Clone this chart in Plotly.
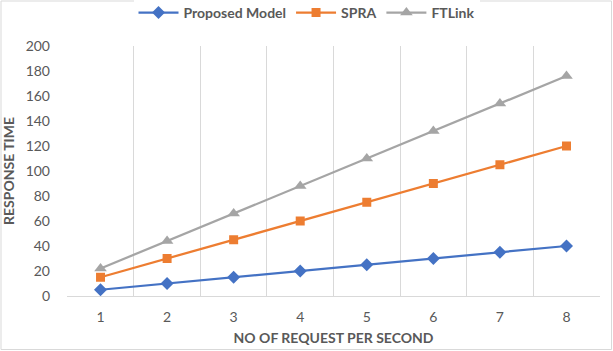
import plotly.graph_objects as go

categories = ["1", "2", "3", "4", "5", "6", "7", "8"]
proposed = [5, 10, 15, 20, 25, 30, 35, 40]
spra = [15, 30, 45, 60, 75, 90, 105, 120]
ftlink = [22, 44, 66, 88, 110, 132, 154, 176]

fig = go.Figure()
fig.add_trace(go.Scatter(x=categories, y=proposed, name="<b>Proposed Model</b>", mode="lines+markers",
                         line=dict(color="#4472C4", width=2.25),
                         marker=dict(symbol="diamond", size=10, color="#4472C4")))
fig.add_trace(go.Scatter(x=categories, y=spra, name="<b>SPRA</b>", mode="lines+markers",
                         line=dict(color="#ED7D31", width=2.25),
                         marker=dict(symbol="square", size=9, color="#ED7D31")))
fig.add_trace(go.Scatter(x=categories, y=ftlink, name="<b>FTLink</b>", mode="lines+markers",
                         line=dict(color="#A5A5A5", width=2.25),
                         marker=dict(symbol="triangle-up", size=11, color="#A5A5A5")))

L, R, T, B = 67, 13, 46, 55
W, H = 613, 351
pw, ph = W - L - R, H - T - B

fig.update_layout(
    width=W, height=H,
    margin=dict(l=L, r=R, t=T, b=B, autoexpand=False),
    paper_bgcolor="white", plot_bgcolor="white",
    font=dict(family="Lato, Open Sans, sans-serif", color="#595959", size=13),
    legend=dict(orientation="h", x=0.5, xanchor="center", xref="container",
                y=1 - 13 / H, yanchor="middle", yref="container",
                font=dict(size=14, color="#595959"), itemwidth=40),
    showlegend=True,
    shapes=[dict(type="rect", xref="paper", yref="paper",
                 x0=-(L - 1) / pw, x1=1 + (R - 1.5) / pw,
                 y0=-(B - 1.5) / ph, y1=1 + (T - 1) / ph,
                 line=dict(color="#D9D9D9", width=1))],
)
fig.update_xaxes(type="category", tickson="boundaries", showgrid=True, gridcolor="#D9D9D9",
                 gridwidth=1, ticks="", showline=True, linecolor="#D9D9D9", automargin=False,
                 tickfont=dict(size=14, color="#595959"), ticklabelstandoff=8,
                 title=dict(text="<b>NO OF REQUEST PER SECOND</b>", font=dict(size=14, color="#595959"), standoff=9))
fig.update_yaxes(range=[0, 200], dtick=20, showgrid=False, zeroline=False, showline=False, automargin=False,
                 tickfont=dict(size=14, color="#595959"), ticks="", ticklen=0, ticklabelstandoff=16,
                 title=dict(text="<b>RESPONSE TIME</b>", font=dict(size=14, color="#595959"), standoff=8))

fig.write_html("out.html")
